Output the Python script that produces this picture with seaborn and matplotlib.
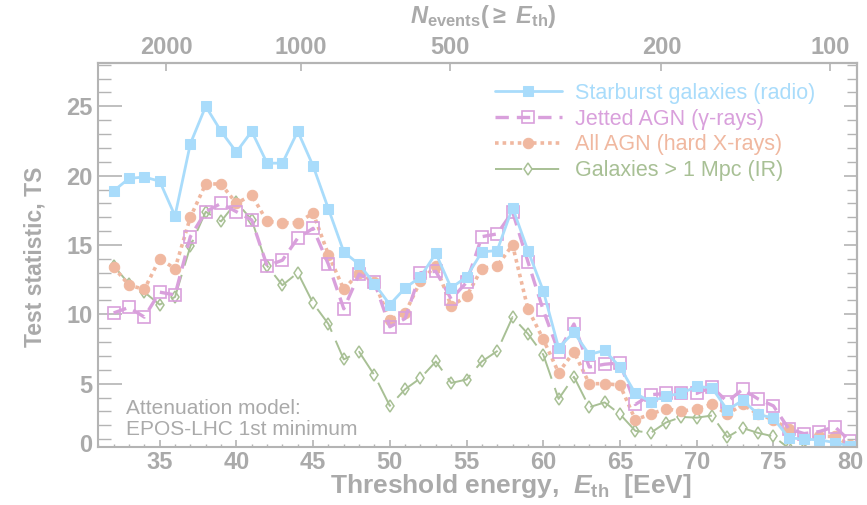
import numpy as np
import pandas as pd
import matplotlib
matplotlib.use("Agg")
import matplotlib.pyplot as plt
from matplotlib.ticker import MultipleLocator, FixedLocator
from matplotlib.transforms import IdentityTransform
import seaborn as sns

sns.set_theme(style="white")
plt.rcParams['font.family'] = ['Liberation Sans', 'DejaVu Sans']
plt.rcParams['mathtext.fontset'] = 'custom'
plt.rcParams['mathtext.rm'] = 'Liberation Sans:bold'
plt.rcParams['mathtext.it'] = 'Liberation Sans:bold:italic'
plt.rcParams['mathtext.bf'] = 'Liberation Sans:bold'

# ---------------- data ----------------
energy = list(range(32, 81))

starburst = [18.9, 19.8, 19.9, 19.6, 17.1, 22.3, 25.0, 23.2, 21.7, 23.2,
             20.9, 20.9, 23.2, 20.7, 17.6, 14.5, 13.6, 12.2, 10.7, 11.9,
             12.7, 14.4, 11.9, 12.7, 14.5, 14.6, 17.7, 14.6, 11.7, 7.6,
             8.7, 7.1, 7.4, 6.2, 4.3, 3.7, 4.1, 4.3, 4.8, 4.7,
             3.1, 3.8, 2.8, 2.5, 1.1, 1.0, 0.95, 0.75, 0.5]

jetted = [10.1, 10.5, 9.8, 11.6, 11.4, 15.6, 17.4, 18.0, 17.4, 16.8,
          13.5, 13.9, 15.5, 16.2, 13.6, 10.4, 12.9, 12.3, 9.1, 9.7,
          13.0, 13.1, 11.1, 12.3, 15.6, 15.8, 17.4, 13.8, 10.3, 7.3,
          9.3, 6.2, 6.4, 6.5, 3.5, 4.2, 4.3, 4.3, 4.3, 4.75,
          3.7, 4.6, 3.9, 3.4, 1.75, 1.4, 1.55, 1.9, 0.85]

all_agn = [13.4, 12.1, 11.8, 14.0, 13.3, 17.0, 19.4, 19.4, 18.0, 18.6,
           16.7, 16.6, 16.6, 17.3, 14.3, 11.8, 13.0, 12.3, 9.6, 10.1,
           12.4, 13.5, 10.6, 11.3, 13.3, 13.5, 15.0, 10.4, 8.2, 5.8,
           7.3, 5.0, 5.0, 4.9, 2.4, 2.8, 3.2, 3.0, 3.2, 3.5,
           2.8, 3.5, 2.8, 2.4, 1.7, 1.0, 1.2, 1.2, 0.55]

galaxies = [13.5, 12.2, 11.6, 10.7, 11.25, 14.9, 17.4, 16.7, 18.1, 16.8,
            13.5, 12.1, 13.0, 10.8, 9.3, 6.75, 7.3, 5.6, 3.4, 4.6,
            5.4, 6.6, 5.05, 5.3, 6.6, 7.35, 9.8, 8.6, 7.1, 3.9,
            5.5, 3.3, 3.65, 2.8, 1.6, 1.45, 2.2, 2.6, 2.55, 2.7,
            1.15, 1.8, 1.45, 1.2, 0.35, 0.3, 0.3, 0.2, 0.1]

labels = ["Starburst galaxies (radio)", "Jetted AGN (\u03b3-rays)",
          "All AGN (hard X-rays)", "Galaxies > 1 Mpc (IR)"]

top_tick_energy = [35.42, 44.2, 53.94, 67.7, 78.67]
top_tick_labels = ["2000", "1000", "500", "200", "100"]

# ---------------- styling ----------------
GRAY = "#aaaaaa"
SPINE = "#b4b4b4"
c_blue = "#a9dcfb"
c_pink = "#d9a0dc"
c_orange = "#f0b8a0"
c_green = "#a8c095"

fig = plt.figure(figsize=(8.67, 5.05), dpi=100)
ax = fig.add_axes([98.3 / 867, 58.5 / 505, (857 - 98.3) / 867, (446.5 - 63.3) / 505])

df = pd.DataFrame({"E": energy, "sb": starburst, "jet": jetted,
                   "agn": all_agn, "gal": galaxies})

sns.lineplot(data=df, x="E", y="gal", ax=ax, color=c_green, lw=1.4,
             ls=(0, (14, 5)), marker="d", ms=6.5, mfc="none", mec=c_green,
             mew=1.1, estimator=None, label=labels[3])
sns.lineplot(data=df, x="E", y="agn", ax=ax, color=c_orange, lw=2.6,
             ls=(0, (1.0, 1.1)), marker="o", ms=7.5, mfc=c_orange, mec=c_orange,
             estimator=None, label=labels[2])
sns.lineplot(data=df, x="E", y="jet", ax=ax, color=c_pink, lw=2.4,
             ls=(0, (4, 2.4)), marker="s", ms=8.5, mfc="none", mec=c_pink,
             mew=1.2, estimator=None, label=labels[1])
sns.lineplot(data=df, x="E", y="sb", ax=ax, color=c_blue, lw=2.0,
             ls="-", marker="s", ms=6.8, mfc=c_blue, mec=c_blue,
             estimator=None, label=labels[0])

for ln in ax.get_lines():
    ln.set_dash_capstyle("butt")

ax.set_xlim(31.0, 80.45)
ax.set_ylim(0.47, 28.1)

# spines
for s in ax.spines.values():
    s.set_color(SPINE)
    s.set_linewidth(1.5)

TICKFS = 17
ax.xaxis.set_major_locator(MultipleLocator(5))
ax.xaxis.set_minor_locator(MultipleLocator(1))
ax.yaxis.set_major_locator(MultipleLocator(5))
ax.yaxis.set_minor_locator(MultipleLocator(1))
ax.tick_params(axis="x", which="major", direction="in", length=5, width=1.2,
               color=SPINE, labelsize=TICKFS, labelcolor=GRAY, pad=3,
               bottom=True, top=False)
ax.tick_params(axis="x", which="minor", direction="in", length=2.5, width=1.0,
               color=SPINE, bottom=True, top=False)
ax.tick_params(axis="y", which="major", direction="in", length=17, width=1.2,
               color=SPINE, labelsize=TICKFS, labelcolor=GRAY, pad=4,
               left=True, right=False)
ax.tick_params(axis="y", which="minor", direction="in", length=9, width=1.0,
               color=SPINE, left=True, right=False)
for lab in ax.get_xticklabels() + ax.get_yticklabels():
    lab.set_fontweight("bold")

# "0" label at the bottom edge of the y axis
ax.text(-0.0085, 0.55, "0", transform=ax.get_yaxis_transform(), ha="right",
        va="center", fontsize=TICKFS, fontweight="bold", color=GRAY)

# right axis ticks
axr = ax.secondary_yaxis("right")
axr.yaxis.set_major_locator(MultipleLocator(5))
axr.yaxis.set_minor_locator(MultipleLocator(1))
axr.tick_params(axis="y", which="major", direction="in", length=9.5, width=1.2,
                color=SPINE, labelright=False)
axr.tick_params(axis="y", which="minor", direction="in", length=7, width=1.0,
                color=SPINE)
axr.spines["right"].set_color(SPINE)
axr.spines["right"].set_linewidth(1.5)

# top axis
axt = ax.secondary_xaxis("top")
axt.xaxis.set_major_locator(FixedLocator(top_tick_energy))
axt.set_xticklabels(top_tick_labels)
axt.xaxis.set_minor_locator(FixedLocator([]))
axt.tick_params(axis="x", which="major", direction="in", length=6, width=1.2,
                color=SPINE, labelsize=TICKFS, labelcolor=GRAY, pad=3)
for lab in axt.get_xticklabels():
    lab.set_fontweight("bold")
axt.spines["top"].set_color(SPINE)
axt.spines["top"].set_linewidth(1.5)

fig.text(483 / 867, 1 - 16 / 505,
         r"$N_{\mathrm{events}}$($\geq$ $E_{\mathrm{th}}$)", fontsize=17,
         color=GRAY, fontweight="bold", ha="center", va="center")

# axis labels
ax.set_xlabel(r"Threshold energy,  $E_{\mathrm{th}}$  [EeV]", fontsize=19,
              color=GRAY, fontweight="bold")
ax.xaxis.set_label_coords(0.544, -0.103)
ax.xaxis.label.set_va("center")
ax.set_ylabel("Test statistic, TS", fontsize=16.5, color=GRAY, fontweight="bold")
ax.yaxis.set_label_coords(-0.0834, 0.4945)
ax.yaxis.label.set_va("center")

# annotation
ann = ax.text(0, 0, "Attenuation model:\nEPOS-LHC 1st minimum",
              fontsize=15, color=GRAY, ha="left", va="center",
              linespacing=1.12)
ann.set_transform(IdentityTransform())
ann.set_position((126, 505 - 419))

# legend
h, l = ax.get_legend_handles_labels()
hd = {lab: hh for hh, lab in zip(h, l)}
leg = ax.legend([hd[x] for x in labels], labels, loc="upper right",
                bbox_to_anchor=((815 - 98.3) / 758.7, (446.5 - 83) / 383.2),
                frameon=False, fontsize=15.5, borderpad=0, borderaxespad=0,
                handlelength=3.1, handletextpad=0.6, labelspacing=0.22,
                numpoints=1)
for txt, col in zip(leg.get_texts(), [c_blue, c_pink, c_orange, c_green]):
    txt.set_color(col)

fig.savefig("out.png", dpi=100)
